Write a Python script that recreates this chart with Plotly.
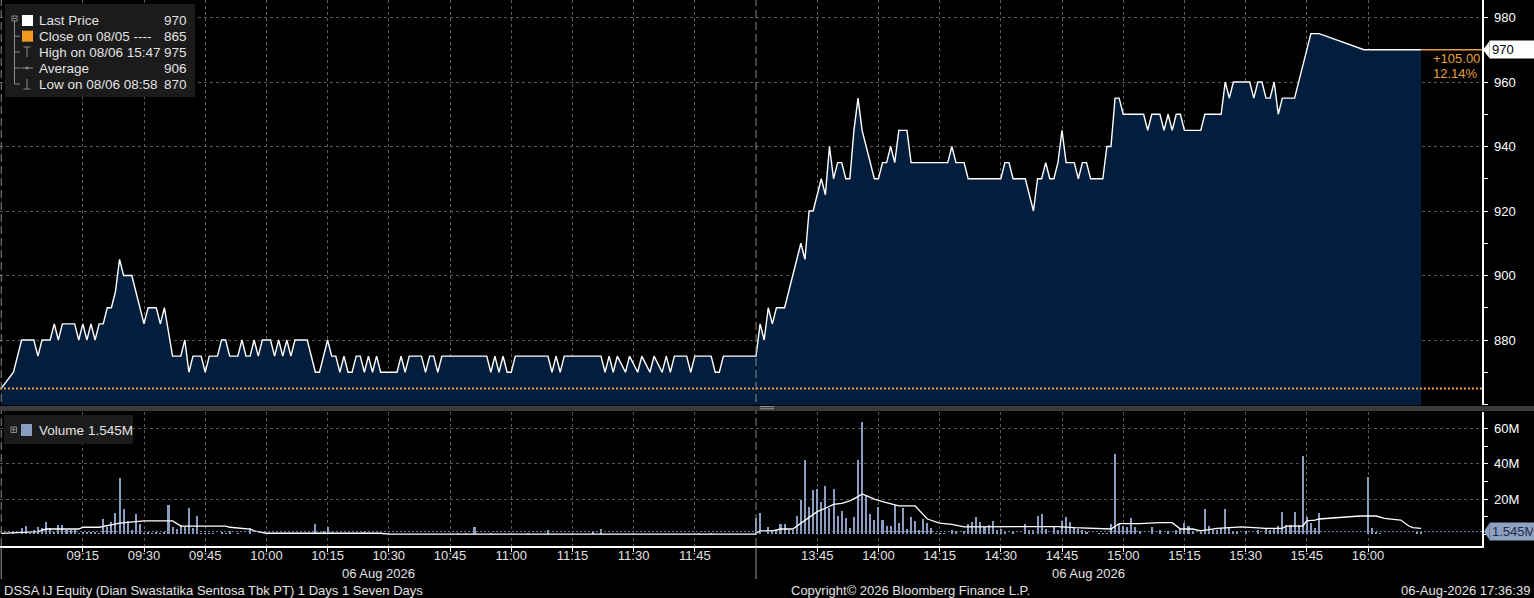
import plotly.graph_objects as go

# ---------------- data ----------------
price_times = [
    "08:55", "08:58", "09:00", "09:03", "09:04", "09:05", "09:07", "09:08", "09:09", "09:10",
    "09:13", "09:14", "09:15", "09:16", "09:17", "09:18", "09:19", "09:20", "09:21", "09:22",
    "09:23", "09:24", "09:25", "09:27", "09:30", "09:31", "09:33", "09:34", "09:35", "09:37",
    "09:39", "09:40", "09:41", "09:42", "09:44", "09:45", "09:46", "09:48", "09:49", "09:50",
    "09:51", "09:53", "09:54", "09:55", "09:56", "09:57", "09:58", "09:59", "10:01", "10:02",
    "10:03", "10:04", "10:05", "10:06", "10:07", "10:10", "10:12", "10:13", "10:15", "10:16",
    "10:17", "10:18", "10:19", "10:20", "10:21", "10:22", "10:23", "10:24", "10:25", "10:26",
    "10:27", "10:28", "10:32", "10:33", "10:34", "10:35", "10:38", "10:39", "10:40", "10:41",
    "10:42", "10:43", "10:54", "10:55", "10:56", "10:57", "10:58", "10:59", "11:00", "11:01",
    "11:09", "11:10", "11:11", "11:12", "11:13", "11:22", "11:23", "11:24", "11:25", "11:26",
    "11:28", "11:29", "11:31", "11:32", "11:34", "11:35", "11:37", "11:38", "11:39", "11:40",
    "11:43", "11:44", "11:45", "11:49", "11:50", "11:51", "11:52", "12:00",
    "13:30", "13:31", "13:32", "13:33", "13:34", "13:35", "13:37", "13:39", "13:41", "13:42",
    "13:43", "13:44", "13:46", "13:47", "13:48", "13:49", "13:50", "13:51", "13:52", "13:53",
    "13:54", "13:55", "13:56", "13:59", "14:00", "14:01", "14:02", "14:03", "14:04", "14:05",
    "14:07", "14:08", "14:17", "14:18", "14:19", "14:21", "14:22", "14:30", "14:31", "14:32",
    "14:33", "14:36", "14:38", "14:39", "14:40", "14:41", "14:42", "14:43", "14:44", "14:45",
    "14:46", "14:48", "14:49", "14:50", "14:51", "14:52", "14:55", "14:56", "14:57", "14:58",
    "14:59", "15:00", "15:05", "15:06", "15:07", "15:09", "15:10", "15:11", "15:12", "15:13",
    "15:14", "15:15", "15:19", "15:20", "15:24", "15:25", "15:26", "15:27", "15:31", "15:32",
    "15:33", "15:34", "15:35", "15:36", "15:37", "15:38", "15:39", "15:42", "15:46", "15:48",
    "15:59", "16:13",
]
price_values = [
    865, 870, 880, 880, 875, 880, 880, 885, 880, 885,
    885, 880, 885, 880, 885, 880, 885, 885, 890, 890,
    895, 905, 900, 900, 885, 890, 890, 885, 890, 875,
    875, 880, 870, 875, 875, 870, 875, 875, 880, 880,
    875, 875, 880, 875, 875, 880, 875, 880, 880, 875,
    880, 875, 880, 875, 880, 880, 870, 870, 880, 875,
    875, 870, 875, 870, 870, 875, 875, 870, 875, 870,
    875, 870, 870, 875, 870, 875, 875, 870, 875, 875,
    870, 875, 875, 870, 875, 870, 875, 870, 870, 875,
    875, 870, 875, 870, 875, 875, 870, 875, 870, 875,
    870, 875, 870, 875, 870, 875, 870, 875, 870, 875,
    875, 870, 875, 875, 870, 870, 875, 875,
    875, 885, 880, 890, 885, 890, 890, 900, 910, 905,
    920, 920, 930, 925, 940, 930, 935, 935, 930, 930,
    945, 955, 945, 930, 930, 935, 935, 940, 935, 945,
    945, 935, 935, 940, 935, 935, 930, 930, 935, 935,
    930, 930, 920, 930, 930, 935, 930, 930, 935, 945,
    935, 935, 930, 935, 935, 930, 930, 940, 940, 955,
    955, 950, 950, 945, 950, 950, 945, 950, 945, 950,
    950, 945, 945, 950, 950, 960, 955, 960, 960, 955,
    960, 960, 955, 955, 960, 950, 955, 955, 975, 975,
    970, 970,
]

vol_times = [
    "08:58", "09:00", "09:01", "09:02", "09:03", "09:04", "09:05", "09:06", "09:07", "09:08",
    "09:09", "09:10", "09:11", "09:12", "09:13", "09:14", "09:15", "09:16", "09:17", "09:18",
    "09:19", "09:20", "09:21", "09:22", "09:23", "09:24", "09:25", "09:26", "09:27", "09:28",
    "09:29", "09:30", "09:31", "09:32", "09:33", "09:34", "09:35", "09:36", "09:37", "09:38",
    "09:39", "09:40", "09:41", "09:42", "09:43", "09:44", "09:45", "09:46", "09:47", "09:49",
    "09:50", "09:51", "09:53", "09:56", "10:12", "10:14", "10:15", "10:16", "10:24", "10:27",
    "10:47", "10:49", "10:51", "10:55", "11:04", "11:09", "11:20", "11:22", "11:46", "11:49",
    "13:30", "13:31", "13:33", "13:34", "13:35", "13:36", "13:37", "13:38", "13:39", "13:40",
    "13:41", "13:42", "13:43", "13:44", "13:45", "13:46", "13:47", "13:48", "13:49", "13:50",
    "13:51", "13:52", "13:53", "13:54", "13:55", "13:56", "13:57", "13:58", "13:59", "14:00",
    "14:01", "14:02", "14:03", "14:04", "14:05", "14:06", "14:07", "14:08", "14:09", "14:10",
    "14:11", "14:12", "14:13", "14:14", "14:15", "14:16", "14:18", "14:19", "14:21", "14:22",
    "14:23", "14:24", "14:25", "14:26", "14:27", "14:28", "14:29", "14:30", "14:31", "14:33",
    "14:36", "14:37", "14:38", "14:39", "14:40", "14:41", "14:43", "14:44", "14:45", "14:46",
    "14:47", "14:48", "14:49", "14:50", "14:51", "14:54", "14:55", "14:56", "14:57", "14:58",
    "14:59", "15:00", "15:01", "15:02", "15:03", "15:04", "15:07", "15:09", "15:11", "15:13",
    "15:14", "15:15", "15:16", "15:17", "15:19", "15:20", "15:21", "15:22", "15:23", "15:24",
    "15:25", "15:26", "15:27", "15:28", "15:30", "15:33", "15:35", "15:36", "15:37", "15:38",
    "15:39", "15:40", "15:41", "15:42", "15:43", "15:44", "15:45", "15:46", "15:47", "15:48",
    "16:00", "16:01", "16:02", "16:03", "16:12", "16:13",
]
vol_values_m = [
    1.5, 3.4, 4.7, 0.5, 2.4, 4.0, 3.4, 7.0, 3.4, 1.5,
    5.1, 5.1, 2.7, 2.7, 2.7, 1.0, 1.5, 1.5, 1.5, 1.5,
    0.6, 8.7, 4.0, 6.8, 11.9, 31.8, 14.2, 7.6, 2.4, 11.5,
    6.1, 1.0, 1.2, 0.8, 1.5, 1.0, 1.2, 16.5, 4.4, 2.9,
    5.3, 4.4, 15.0, 3.6, 10.4, 0.8, 0.6, 0.8, 0.5, 1.5,
    0.8, 2.0, 0.6, 3.4, 5.8, 2.0, 4.2, 1.5, 1.5, 0.8,
    0.6, 0.6, 4.4, 1.0, 1.0, 2.3, 1.3, 2.8, 0.8, 0.6,
    9.1, 11.9, 4.0, 2.2, 2.2, 5.9, 5.9, 2.2, 2.2, 10.4,
    19.5, 42.2, 15.7, 25.2, 26.0, 18.6, 27.3, 15.0, 25.8, 10.4,
    13.3, 9.1, 3.8, 9.7, 42.2, 63.8, 21.8, 11.6, 8.1, 15.4,
    8.1, 4.8, 4.8, 16.5, 6.2, 14.8, 3.0, 9.7, 7.7, 2.4,
    8.5, 6.5, 3.8, 0.8, 0.8, 0.6, 2.5, 1.9, 1.9, 5.7,
    6.8, 9.8, 7.2, 4.4, 5.3, 7.6, 2.5, 3.0, 1.5, 1.9,
    5.7, 2.3, 2.3, 10.4, 11.7, 3.0, 4.7, 2.5, 7.8, 9.8,
    7.2, 3.4, 3.0, 2.3, 1.5, 1.0, 0.8, 1.0, 5.7, 45.8,
    5.7, 4.7, 4.2, 9.5, 4.4, 1.9, 4.4, 2.3, 1.9, 2.5,
    3.0, 6.6, 4.7, 1.9, 2.5, 14.6, 4.7, 2.5, 2.5, 3.4,
    14.6, 3.4, 1.9, 1.5, 1.9, 2.3, 3.4, 2.3, 3.4, 4.9,
    12.9, 5.3, 5.3, 12.9, 5.3, 44.5, 9.8, 6.6, 3.4, 12.3,
    32.8, 3.8, 1.1, 0.6, 1.9, 1.5,
]

vavg_times = [
    "08:55", "09:02", "09:04", "09:06", "09:14", "09:15", "09:19", "09:24", "09:30", "09:37",
    "09:39", "09:50", "09:51", "09:56", "09:57", "10:00", "10:28", "10:30", "10:51", "10:52",
    "11:45", "11:47", "12:00",
    "13:30", "13:31", "13:34", "13:36", "13:39", "13:41", "13:43", "13:45", "13:47", "13:49",
    "13:51", "13:53", "13:55", "13:56", "13:57", "13:59", "14:01", "14:04", "14:05", "14:09",
    "14:11", "14:12", "14:15", "14:18", "14:21", "14:28", "14:44", "14:48", "14:53", "14:57",
    "14:59", "15:04", "15:09", "15:12", "15:14", "15:17", "15:19", "15:23", "15:29", "15:35",
    "15:39", "15:40", "15:44", "15:45", "15:47", "15:48", "15:58", "16:02", "16:04", "16:08",
    "16:10", "16:11", "16:13",
]
vavg_values_m = [
    0.5, 1.0, 1.5, 3.0, 3.0, 4.0, 4.0, 6.3, 7.6, 7.6,
    4.7, 4.7, 4.0, 3.0, 2.0, 0.6, 0.6, 0.1, 0.1, 0.5,
    0.5, 0.1, 0.1,
    0.6, 1.9, 1.9, 3.0, 3.0, 6.3, 10.0, 12.9, 14.8, 17.0,
    17.6, 19.0, 21.4, 22.9, 22.0, 20.0, 18.6, 17.0, 16.1, 16.1,
    11.0, 8.7, 6.3, 5.7, 4.2, 4.2, 4.4, 3.8, 3.4, 3.0,
    6.1, 6.1, 6.6, 6.6, 3.0, 3.0, 1.9, 3.4, 4.2, 3.4,
    3.4, 4.7, 4.7, 7.6, 8.0, 8.7, 10.4, 10.4, 9.1, 8.1,
    4.7, 3.8, 3.4,
]

x_tick_labels = ["09:15", "09:30", "09:45", "10:00", "10:15", "10:30", "10:45", "11:00",
                 "11:15", "11:30", "11:45", "13:45", "14:00", "14:15", "14:30", "14:45",
                 "15:00", "15:15", "15:30", "15:45", "16:00"]
price_tick_values = [860, 880, 900, 920, 940, 960, 980]
price_tick_labels = ["", "880", "900", "920", "940", "960", "980"]
vol_tick_values_m = [20, 40, 60]
vol_tick_labels = ["20M", "40M", "60M"]
session_bounds = [("08:55", "12:00"), ("13:30", "16:13")]
session_date = "06 Aug 2026"

last_price = 970
prev_close = 865
high_price, high_time = 975, "15:47"
avg_price = 906
low_price, low_time = 870, "08:58"
last_volume_m = 1.545

# ---------------- layout geometry ----------------
W, H = 1534, 598
MR, MB = 52, 52
PW, PH = W - MR, H - MB          # plot area 1482 x 546
PX_PER_MIN = 4.08
X_MIN = -5.3
X_MAX = X_MIN + PW / PX_PER_MIN
P_TOP = 980 + 17.5 / 3.225
P_BOT = P_TOP - 405 / 3.225
V_PX_PER_M = 1.76
V_TOP = (534.3 - 412) / V_PX_PER_M
V_BOT = -(546 - 534.3) / V_PX_PER_M

FONT = "Liberation Sans, Arial, sans-serif"
GRID = "#5a5a5a"
TXT = "#e2e2e2"
ORANGE = "#e8a03c"
FILL = "#031e3c"
VOLC = "#8a9cc0"


def tx(t):
    h, m = map(int, t.split(":"))
    mins = h * 60 + m - 540
    if mins >= 270:
        mins -= 90
    return mins


def px(x):  # pixel x -> paper
    return x / PW


def py(y):  # pixel y -> paper
    return 1 - y / PH


fig = go.Figure()

# price area
fig.add_trace(go.Scatter(
    x=[tx(t) for t in price_times], y=price_values, mode="lines",
    line=dict(color="white", width=1.4), fill="tozeroy", fillcolor=FILL,
    xaxis="x2", yaxis="y", hoverinfo="skip", showlegend=False))

# volume bars + average
fig.add_trace(go.Bar(
    x=[tx(t) for t in vol_times], y=vol_values_m, width=0.5,
    marker=dict(color=VOLC, line=dict(width=0)),
    xaxis="x", yaxis="y2", hoverinfo="skip", showlegend=False))
fig.add_trace(go.Scatter(
    x=[tx(t) for t in vavg_times], y=vavg_values_m, mode="lines",
    line=dict(color="white", width=1.3), xaxis="x", yaxis="y2",
    hoverinfo="skip", showlegend=False))

# tick arrows on the right axes
tri_x = X_MAX + 4.0 / PX_PER_MIN
fig.add_trace(go.Scatter(
    x=[tri_x] * len(price_tick_values), y=price_tick_values, mode="markers",
    marker=dict(symbol="triangle-right", size=6, color="white"),
    cliponaxis=False, xaxis="x2", yaxis="y", hoverinfo="skip", showlegend=False))
fig.add_trace(go.Scatter(
    x=[tri_x] * len(vol_tick_values_m), y=vol_tick_values_m, mode="markers",
    marker=dict(symbol="triangle-right", size=6, color="white"),
    cliponaxis=False, xaxis="x", yaxis="y2", hoverinfo="skip", showlegend=False))

xt = [tx(t) for t in x_tick_labels]
grid_common = dict(showgrid=True, gridcolor=GRID, griddash="3px,3px", gridwidth=1,
                   zeroline=False)

fig.update_layout(
    width=W, height=H,
    margin=dict(l=0, r=MR, t=0, b=MB, pad=0),
    paper_bgcolor="black", plot_bgcolor="black",
    font=dict(family=FONT, color=TXT, size=13),
    bargap=0, showlegend=False,
    xaxis=dict(domain=[0, 1], anchor="y2", range=[X_MIN, X_MAX],
               tickmode="array", tickvals=xt, ticktext=x_tick_labels,
               ticks="outside", ticklen=4, tickcolor="white",
               showline=True, linecolor="white", linewidth=1.5,
               ticklabelstandoff=-7,
               tickfont=dict(size=13, color=TXT), **grid_common),
    xaxis2=dict(domain=[0, 1], anchor="y", matches="x", range=[X_MIN, X_MAX],
                tickmode="array", tickvals=xt, showticklabels=False, ticks="",
                showline=False, **grid_common),
    yaxis=dict(domain=[1 - 405 / PH, 1], anchor="x2", side="right",
               range=[P_BOT, P_TOP], tickmode="array",
               tickvals=price_tick_values, ticktext=price_tick_labels,
               ticks="outside", ticklen=4, tickcolor="white",
               minor=dict(tick0=860, dtick=10, ticks="outside", ticklen=4,
                          tickcolor="white", showgrid=False),
               showline=True, linecolor="white", linewidth=1.5,
               ticklabelstandoff=4,
               tickfont=dict(size=13, color="white"), **grid_common),
    yaxis2=dict(domain=[0, 134 / PH], anchor="x", side="right",
                range=[V_BOT, V_TOP], tickmode="array",
                tickvals=vol_tick_values_m, ticktext=vol_tick_labels,
                ticks="outside", ticklen=4, tickcolor="white",
                minor=dict(tick0=0, dtick=10, ticks="outside", ticklen=4,
                           tickcolor="white", showgrid=False),
                showline=True, linecolor="white", linewidth=1.5,
                ticklabelstandoff=4,
                tickfont=dict(size=13, color="white"), **grid_common),
)

shapes = []
# previous close dotted line
shapes.append(dict(type="line", xref="paper", yref="y", x0=0, x1=1,
                   y0=prev_close, y1=prev_close,
                   line=dict(color=ORANGE, width=2, dash="2px,2px"), layer="above"))
# last price extension to the axis
shapes.append(dict(type="line", xref="x2", yref="y", x0=tx(price_times[-1]), x1=X_MAX,
                   y0=last_price, y1=last_price, line=dict(color=ORANGE, width=1.3)))
# last volume dotted line
shapes.append(dict(type="line", xref="paper", yref="y2", x0=0, x1=1,
                   y0=last_volume_m, y1=last_volume_m,
                   line=dict(color="#6f80a3", width=1, dash="2px,2px")))
# session boundaries
for a, b in session_bounds:
    xb = tx(a)
    shapes.append(dict(type="line", xref="x", yref="paper", x0=xb, x1=xb, y0=0, y1=1,
                       line=dict(color="#8a8a8a", width=1, dash="8px,4px"), layer="above"))
    shapes.append(dict(type="line", xref="x", yref="paper", x0=xb, x1=xb, y0=py(547), y1=py(579),
                       line=dict(color="#9a9a9a", width=1)))
# pane separator
shapes.append(dict(type="rect", xref="paper", yref="paper", x0=0, x1=W / PW,
                   y0=py(411), y1=py(406), fillcolor="#3b3b3b", line=dict(width=0), layer="above"))
for yy in (406.6, 408.8):
    shapes.append(dict(type="line", xref="paper", yref="paper", x0=px(760), x1=px(774),
                       y0=py(yy), y1=py(yy), line=dict(color="#9a9a9a", width=1), layer="above"))

# legend boxes
shapes.append(dict(type="rect", xref="paper", yref="paper", x0=px(5), x1=px(195),
                   y0=py(97), y1=py(4), fillcolor="#1b1b1b", line=dict(width=0), layer="above"))
shapes.append(dict(type="rect", xref="paper", yref="paper", x0=px(4), x1=px(133),
                   y0=py(444), y1=py(415), fillcolor="#1b1b1b", line=dict(width=0), layer="above"))
G = "#8c8c8c"


def seg(x0, y0, x1, y1, color=G, w=1):
    shapes.append(dict(type="line", xref="paper", yref="paper", x0=px(x0), x1=px(x1),
                       y0=py(y0), y1=py(y1), line=dict(color=color, width=w), layer="above"))


def box(x0, y0, x1, y1, fill=None, line=None):
    shapes.append(dict(type="rect", xref="paper", yref="paper", x0=px(x0), x1=px(x1),
                       y0=py(y1), y1=py(y0), fillcolor=fill or "rgba(0,0,0,0)",
                       line=dict(color=line or "rgba(0,0,0,0)", width=1 if line else 0),
                       layer="above"))


rows = [20.5, 36.2, 52.0, 68.0, 84.0]
# tree
box(12, 16, 17, 21, line=G)
seg(13, 18.5, 16, 18.5)
seg(14.5, 21, 14.5, rows[4])
for r in rows[1:]:
    seg(14.5, r, 20, r)
box(22, rows[0] - 5.5, 33, rows[0] + 5.5, fill="white")
box(22, rows[1] - 5.5, 33, rows[1] + 5.5, fill="#f39a1e")
seg(23.5, 47, 30.5, 47)
seg(27, 47, 27, 57)
seg(21, rows[3], 33, rows[3])
shapes.append(dict(type="circle", xref="paper", yref="paper", x0=px(25.5), x1=px(28.5),
                   y0=py(69.5), y1=py(66.5), fillcolor=G, line=dict(width=0), layer="above"))
seg(27, 79, 27, 89)
seg(23.5, 89, 30.5, 89)
# volume legend icons
box(11, 427, 16.5, 432.5, line=G)
seg(12, 429.7, 15.5, 429.7)
seg(13.75, 428, 13.75, 431.5)
box(21, 424, 32, 436, fill=VOLC)

# last price / last volume arrows
shapes.append(dict(type="path", xref="paper", yref="y", xsizemode="pixel", ysizemode="pixel",
                   xanchor=1, yanchor=last_price, path="M 1,0 L 7.5,8.5 L 7.5,-8.5 Z",
                   fillcolor="white", line=dict(width=0)))
shapes.append(dict(type="path", xref="paper", yref="y2", xsizemode="pixel", ysizemode="pixel",
                   xanchor=1, yanchor=last_volume_m, path="M 2,0 L 7.5,8.5 L 7.5,-8.5 Z",
                   fillcolor="#8ea2c4", line=dict(width=0)))
fig.update_layout(shapes=shapes)

ann = []


def text(s, x, y, anchor="left", size=13.5, color=TXT, xref="paper"):
    ann.append(dict(text=s, x=(px(x) if xref == "paper" else x), y=py(y), xref=xref,
                    yref="paper", xanchor=anchor, yanchor="middle", showarrow=False,
                    font=dict(family=FONT, size=size, color=color)))


legend_rows = [
    ("Last Price", last_price),
    ("Close on 08/05 ----", prev_close),
    ("High on 08/06 " + high_time, high_price),
    ("Average", avg_price),
    ("Low on 08/06 " + low_time, low_price),
]
for (lab, val), r in zip(legend_rows, rows):
    text(lab, 37, r)
    text(str(val), 189, r, anchor="right")
text("Volume", 37, 430)
text(f"{last_volume_m:.3f}M", 86, 430)

chg = last_price - prev_close
text(f"+{chg:.2f}", 1431, 58.5, size=13, color=ORANGE)
text(f"{chg / prev_close * 100:.2f}%", 1431, 74, size=13, color=ORANGE)

# session date labels
for a, b in session_bounds:
    ann.append(dict(text=session_date, x=(tx(a) + tx(b)) / 2, y=py(573), xref="x", yref="paper",
                    xanchor="center", yanchor="middle", showarrow=False,
                    font=dict(family=FONT, size=13, color=TXT)))

# footer
text("DSSA IJ Equity (Dian Swastatika Sentosa Tbk PT) 1 Days 1 Seven Days", 2, 590, size=13)
text("Copyright\u00a9 2026 Bloomberg Finance L.P.", 910, 590, anchor="center", size=13)
text("06-Aug-2026 17:36:39", 1532, 590, anchor="right", size=13)

# right-hand value boxes
ann.append(dict(text=str(last_price), x=1, y=last_price, xref="paper", yref="y",
                xanchor="left", yanchor="middle", xshift=7, showarrow=False,
                bgcolor="white", borderpad=2, width=41, height=13, align="left",
                font=dict(family=FONT, size=13, color="black")))
ann.append(dict(text=f"{last_volume_m:.3f}M", x=1, y=last_volume_m, xref="paper", yref="y2",
                xanchor="left", yanchor="middle", xshift=7, showarrow=False,
                bgcolor="#8ea2c4", borderpad=2, width=41, height=13, align="left",
                font=dict(family=FONT, size=13, color="#1c2a46")))
fig.update_layout(annotations=ann)

fig.write_html(
    "out.html",
    config={"displayModeBar": False, "staticPlot": True},
    post_script="document.body.style.margin='0';document.body.style.padding='0';"
                "document.body.style.background='black';",
)
